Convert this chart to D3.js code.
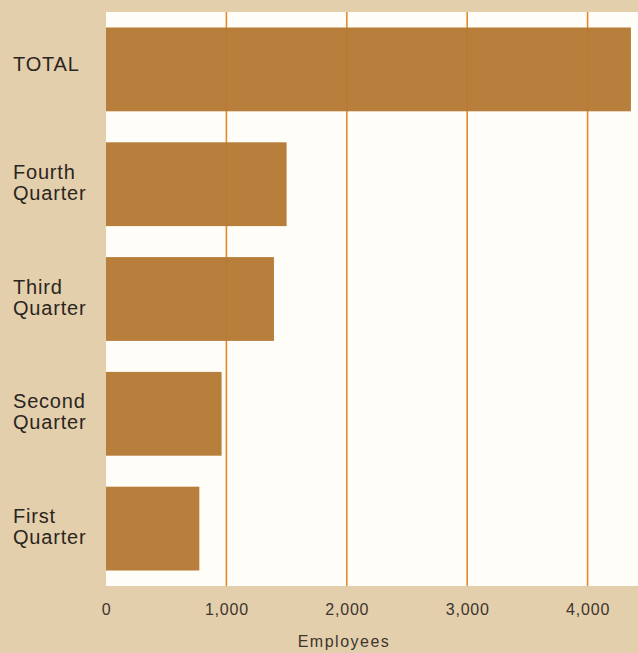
<!DOCTYPE html>
<html>
<head>
<meta charset="utf-8">
<script src="https://cdn.jsdelivr.net/npm/d3@7"></script>
<style>
  html, body { margin: 0; padding: 0; background: #e4cfad; }
  svg { display: block; }
  text { font-family: "Liberation Sans", Arial, Helvetica, sans-serif; }
</style>
</head>
<body>
<svg id="chart" width="638" height="653"></svg>
<script>
// Data (top level)
const categories = ["TOTAL", "Fourth Quarter", "Third Quarter", "Second Quarter", "First Quarter"];
const labelLines = [["TOTAL"], ["Fourth", "Quarter"], ["Third", "Quarter"], ["Second", "Quarter"], ["First", "Quarter"]];
const employees = [4360, 1500, 1395, 960, 775];
const tickValues = [0, 1000, 2000, 3000, 4000];
const tickLabels = ["0", "1,000", "2,000", "3,000", "4,000"];
const axisTitle = "Employees";

const W = 638, H = 653;
const plot = { left: 106, right: 638, top: 12, bottom: 586 };

const svg = d3.select("#chart");

svg.append("rect").attr("x", 0).attr("y", 0).attr("width", W).attr("height", H).attr("fill", "#e4cfad");
svg.append("rect")
  .attr("x", plot.left).attr("y", plot.top)
  .attr("width", plot.right - plot.left).attr("height", plot.bottom - plot.top)
  .attr("fill", "#fffdf7");

const x = d3.scaleLinear().domain([0, 4000]).range([plot.left, plot.left + 4000 * 0.1204]);
const y = d3.scaleBand().domain(categories).range([plot.top, plot.bottom]).paddingInner(0.27).paddingOuter(0.135);

// gridlines
svg.append("g").selectAll("line")
  .data(tickValues.filter(d => d > 0))
  .join("line")
  .attr("x1", d => x(d)).attr("x2", d => x(d))
  .attr("y1", plot.top).attr("y2", plot.bottom)
  .attr("stroke", "#e38a2c").attr("stroke-width", 1.6);

// bars
svg.append("g").selectAll("rect")
  .data(categories)
  .join("rect")
  .attr("x", x(0))
  .attr("y", d => y(d))
  .attr("width", (d, i) => x(employees[i]) - x(0))
  .attr("height", y.bandwidth())
  .attr("fill", "#b67a35")
  .attr("fill-opacity", 0.97);

// category labels
const lab = svg.append("g");
categories.forEach((c, i) => {
  const lines = labelLines[i];
  const cy = y(c) + y.bandwidth() / 2 - (lines.length === 1 ? 5 : 2);
  const lh = 21;
  const t = lab.append("text")
    .attr("x", 13)
    .attr("fill", "#2b2520")
    .attr("font-size", 20)
    .attr("letter-spacing", 0.8);
  lines.forEach((ln, j) => {
    t.append("tspan")
      .attr("x", 13)
      .attr("y", cy + (j - (lines.length - 1) / 2) * lh)
      .attr("dominant-baseline", "central")
      .text(ln);
  });
});

// x axis
const axis = d3.axisBottom(x).tickValues(tickValues).tickFormat((d, i) => tickLabels[i]).tickSize(0).tickPadding(0);
const ag = svg.append("g").attr("transform", `translate(0, 609)`).call(axis);
ag.select(".domain").remove();
ag.selectAll("text")
  .attr("dy", null)
  .attr("dominant-baseline", "central")
  .attr("fill", "#3d352e")
  .attr("font-size", 16)
  .attr("font-family", "Liberation Sans, Arial, sans-serif")
  .attr("letter-spacing", 0.8);

svg.append("text")
  .attr("x", 344).attr("y", 641)
  .attr("text-anchor", "middle")
  .attr("dominant-baseline", "central")
  .attr("fill", "#3d352e")
  .attr("font-size", 16)
  .attr("letter-spacing", 1.5)
  .text(axisTitle);
</script>
</body>
</html>
